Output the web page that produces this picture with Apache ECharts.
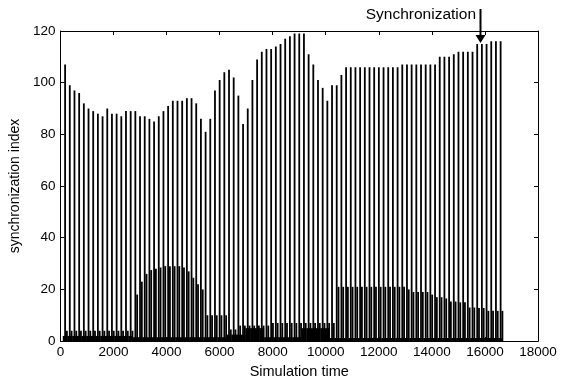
<!DOCTYPE html>
<html>
<head>
<meta charset="utf-8">
<script src="https://cdn.jsdelivr.net/npm/echarts@6/dist/echarts.min.js"></script>
<style>
  html, body { margin: 0; padding: 0; background: #fff; }
  #container { width: 566px; height: 384px; }
</style>
</head>
<body>
<div id="container"></div>
<script>
// one big spike per cycle, cycles are evenly spaced in simulation time
const cyclePeriod = 176.5;

// height of the main spike of each cycle
const peaks = [
  107, 99, 97, 96, 92, 90, 89, 88, 87, 90,
  88, 88, 87, 89, 89, 89, 87, 87, 86, 85,
  87, 89, 91, 93, 93, 93, 94, 94, 92, 86,
  81, 86, 97, 101, 104, 105, 102, 95, 84, 90,
  101, 109, 112, 113, 113, 114, 115, 117, 118, 119,
  119, 119, 111, 107, 101, 98, 93, 99, 99, 103,
  106, 106, 106, 106, 106, 106, 106, 106, 106, 106,
  106, 106, 107, 107, 107, 107, 107, 107, 107, 107,
  110, 110, 110, 111, 112, 112, 112, 112, 115, 115,
  115, 116, 116, 116
];

// height of the secondary spikes that follow each main spike
const mids = [
  4, 4, 4, 4, 4, 4, 4, 4, 4, 4,
  4, 4, 4, 4, 4, 18, 23, 26, 27.5, 28,
  28.5, 29, 29, 29, 29, 28.5, 27, 24.5, 22, 20,
  10, 10, 10, 10, 10, 4.5, 4.5, 6, 6, 6,
  6, 6, 6, 6, 7, 7, 7, 7, 7, 7,
  7, 7, 7, 7, 7, 7, 7, 7, 21, 21,
  21, 21, 21, 21, 21, 21, 21, 21, 21, 21,
  21, 21, 21, 20, 19, 19, 19, 19, 18, 17,
  17, 16.5, 15.3, 15.3, 15, 15, 13, 13, 12.8, 12.8,
  11.7, 11.7, 11.7, 11.7
];

// level of the dense low activity between spikes
const lows = [
  2, 2, 2, 2, 2, 2, 2, 2, 2, 2,
  2, 2, 2, 2, 2, 1.5, 1.5, 1.5, 1.5, 1.5,
  1.5, 1.5, 1.5, 1.5, 1.5, 1.5, 1.5, 1.5, 1.5, 1.5,
  1.5, 1.5, 1.5, 1.5, 1.5, 2.5, 2.5, 2.5, 2.5, 5,
  5, 5, 5, 1.5, 1.5, 1.5, 1.5, 1.5, 1.5, 1.5,
  1.5, 5, 5, 5, 5, 5, 5, 1.2, 1.2, 1.2,
  1.2, 1.2, 1.2, 1.2, 1.2, 1.2, 1.2, 1.2, 1.2, 1.2,
  1.2, 1.2, 1.2, 1.2, 1.2, 1.2, 1.2, 1.2, 1.2, 1.2,
  1.2, 1.2, 1.2, 1.2, 1.2, 1.2, 1.2, 1.2, 1.2, 1.2,
  1.2, 1.2, 1.2, 1.2
];

const xTicks = { min: 0, max: 18000, interval: 2000 };
const yTicks = { min: 0, max: 120, interval: 20 };

const rows = peaks.map((p, i) => [(i + 1) * cyclePeriod, p, mids[i], lows[i]]);

const font = 'Liberation Sans, Arial, Helvetica, sans-serif';

const myChart = echarts.init(document.getElementById('container'));

const axisCommon = {
  axisLine: { onZero: false, lineStyle: { color: '#000', width: 1 } },
  axisTick: { inside: true, length: 4, lineStyle: { color: '#000' } },
  splitLine: { show: false },
};

const option = {
  animation: false,
  backgroundColor: '#fff',
  grid: { left: 57, right: 28, top: 31, bottom: 39 },
  xAxis: [
    Object.assign({
      type: 'value', position: 'bottom',
      min: xTicks.min, max: xTicks.max, interval: xTicks.interval,
      name: 'Simulation time', nameLocation: 'middle', nameGap: 20,
      nameTextStyle: { color: '#000', fontSize: 14.5, fontFamily: font },
      axisLabel: { color: '#000', fontSize: 13.5, fontFamily: font, margin: 4, formatter: v => String(v) },
    }, axisCommon),
    Object.assign({
      type: 'value', position: 'top',
      min: xTicks.min, max: xTicks.max, interval: xTicks.interval,
      axisLabel: { show: false },
    }, axisCommon),
  ],
  yAxis: [
    Object.assign({
      type: 'value', position: 'left',
      min: yTicks.min, max: yTicks.max, interval: yTicks.interval,
      name: 'synchronization index', nameLocation: 'middle', nameGap: 31,
      nameTextStyle: { color: '#000', fontSize: 14, fontFamily: font },
      axisLabel: { color: '#000', fontSize: 13.5, fontFamily: font, margin: 5 },
    }, axisCommon),
    Object.assign({
      type: 'value', position: 'right',
      min: yTicks.min, max: yTicks.max, interval: yTicks.interval,
      axisLabel: { show: false },
    }, axisCommon),
  ],
  graphic: [
    {
      type: 'text', right: 90, top: 7,
      style: { text: 'Synchronization', fill: '#000', font: '15.5px ' + font },
    },
    {
      type: 'line', shape: { x1: 480.5, y1: 9, x2: 480.5, y2: 37 },
      style: { stroke: '#000', lineWidth: 2 },
    },
    {
      type: 'polygon', shape: { points: [[475.5, 35], [485.5, 35], [480.5, 43]] },
      style: { fill: '#000' },
    },
  ],
  series: [
    {
      type: 'custom',
      xAxisIndex: 0,
      yAxisIndex: 0,
      data: rows,
      renderItem: function (params, api) {
        const base = api.coord([api.value(0), 0]);
        const top = api.coord([api.value(0), api.value(1)]);
        const midTop = api.coord([api.value(0), api.value(2)]);
        const lowTop = api.coord([api.value(0), api.value(3)]);
        const step = api.size([cyclePeriod, 0])[0];
        return {
          type: 'group',
          children: [
            { type: 'rect', shape: { x: base[0] - step / 2, y: lowTop[1], width: step, height: base[1] - lowTop[1] }, style: { fill: '#000' } },
            { type: 'rect', shape: { x: base[0] + 0.9, y: midTop[1], width: 1.8, height: base[1] - midTop[1] }, style: { fill: '#000' } },
            { type: 'rect', shape: { x: base[0] - 0.9, y: top[1], width: 1.8, height: base[1] - top[1] }, style: { fill: '#000' } },
          ],
        };
      },
    },
  ],
};
myChart.setOption(option);
window.addEventListener('resize', () => {
  myChart.resize();
});
</script>
</body>
</html>
